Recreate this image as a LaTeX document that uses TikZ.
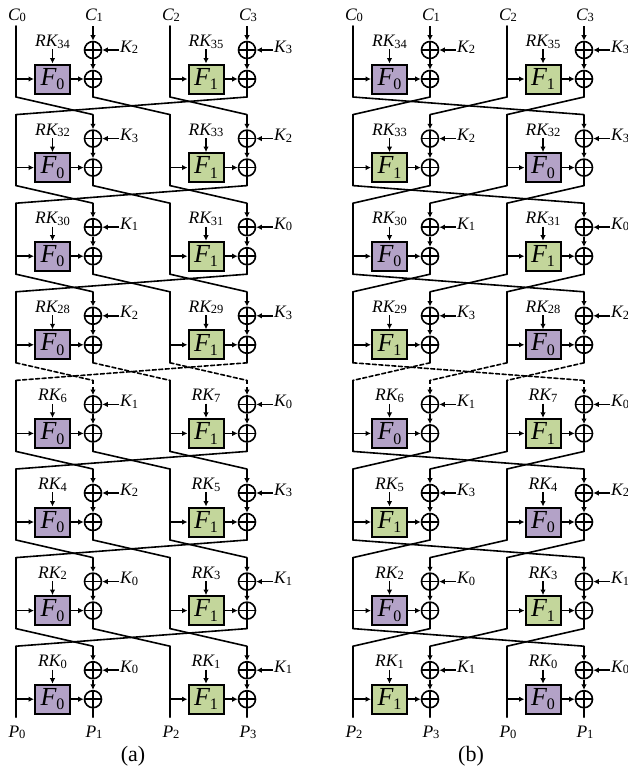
\documentclass[tikz,border=0pt]{standalone}
\usepackage{fontspec}
\setmainfont{Liberation Serif}
\usetikzlibrary{arrows.meta}
\definecolor{f0col}{RGB}{179,162,199}
\definecolor{f1col}{RGB}{195,214,155}
\newcommand{\lbl}[2]{{\fontsize{17.5}{17.5}\selectfont\itshape #1}\raisebox{-0.35ex}{\fontsize{12.5}{12.5}\selectfont #2}}
\newcommand{\flbl}[1]{{\fontsize{26}{26}\selectfont\itshape F}\raisebox{-4.5pt}{\fontsize{16}{16}\selectfont #1}}
\newcommand{\drawpanel}[3]{%
  \foreach \r/\la/\ka/\fa/\lb/\kb/\fb in {#3} {
    \pgfmathsetmacro\U{50+88.6*(\r-1)}
    \pgfmathsetmacro\xa{#2+16}
    \pgfmathsetmacro\xb{#2+93}
    \pgfmathsetmacro\xc{#2+170}
    \pgfmathsetmacro\xd{#2+247}
    \ifnum\r=5 \def\ist{dsh}\else\def\ist{solid}\fi
    \coordinate (#1-\r-t0) at (\xa,\U-24);
    \coordinate (#1-\r-t1) at (\xb,\U-24);
    \coordinate (#1-\r-t2) at (\xc,\U-24);
    \coordinate (#1-\r-t3) at (\xd,\U-24);
    \coordinate (#1-\r-b0) at (\xa,\U+47);
    \coordinate (#1-\r-b1) at (\xb,\U+47);
    \coordinate (#1-\r-b2) at (\xc,\U+47);
    \coordinate (#1-\r-b3) at (\xd,\U+47);
    \node[xorn] (#1-\r-u1) at (\xb,\U) {};
    \node[xorn] (#1-\r-l1) at (\xb,\U+29) {};
    \node[xorn] (#1-\r-u3) at (\xd,\U) {};
    \node[xorn] (#1-\r-l3) at (\xd,\U+29) {};
    \node[fbox,fill=f\fa col] (#1-\r-f0) at (\xa+36.5,\U+29) {\flbl{\fa}};
    \node[fbox,fill=f\fb col] (#1-\r-f2) at (\xc+36,\U+29) {\flbl{\fb}};
    \node[lab,anchor=base] (#1-\r-rk0) at (\xa+36.5,\U-3.5) {\lbl{RK}{\la}};
    \node[lab,anchor=base] (#1-\r-rk2) at (\xc+36,\U-3.5) {\lbl{RK}{\lb}};
    \node[lab,anchor=base west] (#1-\r-k1) at (\xb+26,\U+2) {\lbl{K}{\ka}};
    \node[lab,anchor=base west] (#1-\r-k3) at (\xd+26,\U+2) {\lbl{K}{\kb}};
    \draw[wire] (#1-\r-t0) -- (#1-\r-b0);
    \draw[wire] (#1-\r-t2) -- (#1-\r-b2);
    \draw[arr] (#1-\r-t0 |- #1-\r-f0.west) -- (#1-\r-f0.west);
    \draw[arr] (#1-\r-t2 |- #1-\r-f2.west) -- (#1-\r-f2.west);
    \draw[arr] (#1-\r-f0.east) -- (#1-\r-l1.west);
    \draw[arr] (#1-\r-f2.east) -- (#1-\r-l3.west);
    \draw[arr,\ist] (#1-\r-t1) -- (#1-\r-u1.north);
    \draw[arr,\ist] (#1-\r-t3) -- (#1-\r-u3.north);
    \draw[arr] (#1-\r-u1.south) -- (#1-\r-l1.north);
    \draw[arr] (#1-\r-u3.south) -- (#1-\r-l3.north);
    \draw[wire] (#1-\r-l1.south) -- (#1-\r-b1);
    \draw[wire] (#1-\r-l3.south) -- (#1-\r-b3);
    \draw[arr] (#1-\r-rk0.south -| #1-\r-f0.north) -- (#1-\r-f0.north);
    \draw[arr] (#1-\r-rk2.south -| #1-\r-f2.north) -- (#1-\r-f2.north);
    \draw[arr] (#1-\r-k1.west |- #1-\r-u1.east) -- (#1-\r-u1.east);
    \draw[arr] (#1-\r-k3.west |- #1-\r-u3.east) -- (#1-\r-u3.east);
  }%
}
\begin{document}
\begin{tikzpicture}[x=1pt,y=-1pt,
  wire/.style={line width=1.6pt,line cap=round},
  arr/.style={line width=1.6pt,-{Latex[length=5.5pt,width=5.5pt]}},
  xorn/.style={circle,draw,line width=1.6pt,minimum size=17pt,inner sep=0pt,
    path picture={\draw[line width=1.6pt] (path picture bounding box.north) -- (path picture bounding box.south) (path picture bounding box.west) -- (path picture bounding box.east);}},
  fbox/.style={draw,line width=2pt,minimum width=35pt,minimum height=29pt,inner sep=0pt},
  lab/.style={inner sep=1pt},
  dsh/.style={dash pattern=on 4pt off 2.5pt}]
\useasboundingbox (0,0) rectangle (627,769);
\drawpanel{a}{0}{1/34/2/0/35/3/1, 2/32/3/0/33/2/1, 3/30/1/0/31/0/1, 4/28/2/0/29/3/1,
  5/6/1/0/7/0/1, 6/4/2/0/5/3/1, 7/2/0/0/3/1/1, 8/0/0/0/1/1/1}
\drawpanel{b}{337}{1/34/2/0/35/3/1, 2/33/2/1/32/3/0, 3/30/1/0/31/0/1, 4/29/3/1/28/2/0,
  5/6/1/0/7/0/1, 6/5/3/1/4/2/0, 7/2/0/0/3/1/1, 8/1/1/1/0/0/0}
\foreach \r in {1,...,7} {
  \pgfmathtruncatemacro\rn{\r+1}
  \ifnum\r=4 \def\ist{dsh}\else\def\ist{solid}\fi
  \draw[wire,\ist] (a-\r-b0) -- (a-\rn-t1);
  \draw[wire,\ist] (a-\r-b1) -- (a-\rn-t2);
  \draw[wire,\ist] (a-\r-b2) -- (a-\rn-t3);
  \draw[wire,\ist] (a-\r-b3) -- (a-\rn-t0);
  \draw[wire,\ist] (b-\r-b0) -- (b-\rn-t3);
  \draw[wire,\ist] (b-\r-b1) -- (b-\rn-t0);
  \draw[wire,\ist] (b-\r-b2) -- (b-\rn-t1);
  \draw[wire,\ist] (b-\r-b3) -- (b-\rn-t2);
}
% top labels
\node[lab,anchor=base] (a-c0) at (17,20) {\lbl{C}{0}};
\node[lab,anchor=base] (a-c1) at (94,20) {\lbl{C}{1}};
\node[lab,anchor=base] (a-c2) at (171,20) {\lbl{C}{2}};
\node[lab,anchor=base] (a-c3) at (248,20) {\lbl{C}{3}};
\node[lab,anchor=base] (b-c0) at (354,20) {\lbl{C}{0}};
\node[lab,anchor=base] (b-c1) at (431,20) {\lbl{C}{1}};
\node[lab,anchor=base] (b-c2) at (508,20) {\lbl{C}{2}};
\node[lab,anchor=base] (b-c3) at (585,20) {\lbl{C}{3}};
% bottom labels
\node[lab,anchor=base] (a-p0) at (17,737) {\lbl{P}{0}};
\node[lab,anchor=base] (a-p1) at (94,737) {\lbl{P}{1}};
\node[lab,anchor=base] (a-p2) at (171,737) {\lbl{P}{2}};
\node[lab,anchor=base] (a-p3) at (248,737) {\lbl{P}{3}};
\node[lab,anchor=base] (b-p2) at (354,737) {\lbl{P}{2}};
\node[lab,anchor=base] (b-p3) at (431,737) {\lbl{P}{3}};
\node[lab,anchor=base] (b-p0) at (508,737) {\lbl{P}{0}};
\node[lab,anchor=base] (b-p1) at (585,737) {\lbl{P}{1}};
% captions
\node[lab] (capa) at (133,756) {\fontsize{22}{22}\selectfont (a)};
\node[lab] (capb) at (471,756) {\fontsize{22}{22}\selectfont (b)};
\end{tikzpicture}
\end{document}
